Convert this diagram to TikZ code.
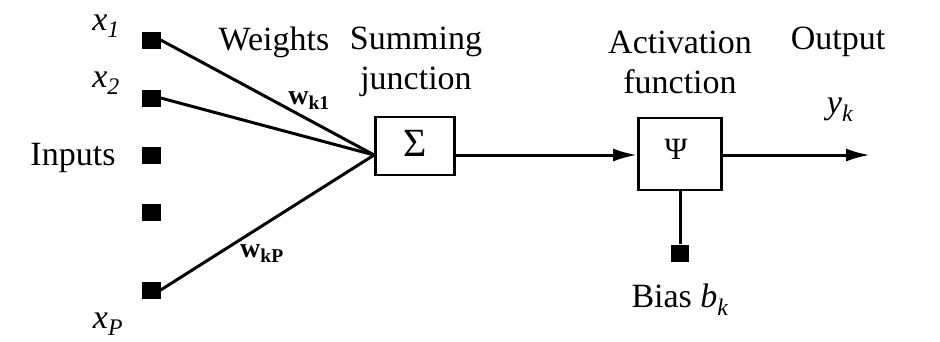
\documentclass[tikz,border=0pt]{standalone}
\usepackage{fontspec}
\setmainfont{Liberation Serif}
\usetikzlibrary{arrows.meta}
\begin{document}
\begin{tikzpicture}[x=1pt,y=-1pt,
  lbl/.style={font=\fontsize{34}{40}\selectfont, inner sep=0pt, align=center},
  wlbl/.style={font=\fontsize{28}{32}\selectfont\bfseries, inner sep=0pt},
  sq/.style={fill=black, minimum width=19pt, minimum height=17pt, inner sep=0pt},
  blk/.style={draw, line width=2.8pt, inner sep=0pt},
  wire/.style={line width=3pt},
  arr/.style={wire, -{Latex[length=24pt,width=13pt]}}]
\useasboundingbox (0,0) rectangle (940,341);
% inputs
\node[sq] (in1) at (151,40) {};
\node[sq] (in2) at (151,98) {};
\node[sq] (in3) at (151,155) {};
\node[sq] (in4) at (151,212) {};
\node[sq] (inP) at (151,290) {};
\node[lbl, anchor=base] (lx1) at (106,30) {\textit{x\textsubscript{1}}};
\node[lbl, anchor=base] (lx2) at (106,87) {\textit{x\textsubscript{2}}};
\node[lbl, anchor=base] (lxP) at (108,328) {\textit{x\textsubscript{P}}};
\node[lbl] (linputs) at (73,158) {Inputs};
\node[lbl] (lweights) at (274,42) {Weights};
\node[lbl] (lsum) at (416,62) {Summing\\junction};
\node[lbl] (lact) at (680,62) {Activation\\function};
\node[lbl] (lout) at (838,42) {Output};
\node[lbl] (ly) at (840,110) {\textit{y\textsubscript{k}}};
% blocks
\node[blk, minimum width=79pt, minimum height=58pt] (sum) at (415,146) {};
\node[lbl, font=\fontsize{40}{44}\selectfont] (sig) at (415,143) {Σ};
\node[blk, minimum width=83pt, minimum height=72pt] (act) at (680,154) {};
\node[lbl, font=\fontsize{31}{34}\selectfont] (psi) at (676,149) {Ψ};
\node[sq, minimum width=18pt] (bias) at (680,253) {};
\node[lbl] (lbias) at (680,300) {Bias \textit{b\textsubscript{k}}};
\coordinate (j) at (sum.west |- 0,155);
\coordinate (out) at (870,155);
% weights
\node[wlbl] (w1) at (309,101) {w\textsubscript{k1}};
\node[wlbl] (wP) at (262,254) {w\textsubscript{kP}};
% connectors
\draw[wire] (in1.east) -- (j);
\draw[wire] (in2.east) -- (j);
\draw[wire] (inP.east) -- (j);
\draw[arr] (sum.east |- j) -- (act.west |- j);
\draw[arr] (act.east |- j) -- (out);
\draw[wire] (act.south) -- (bias.north);
\end{tikzpicture}
\end{document}
